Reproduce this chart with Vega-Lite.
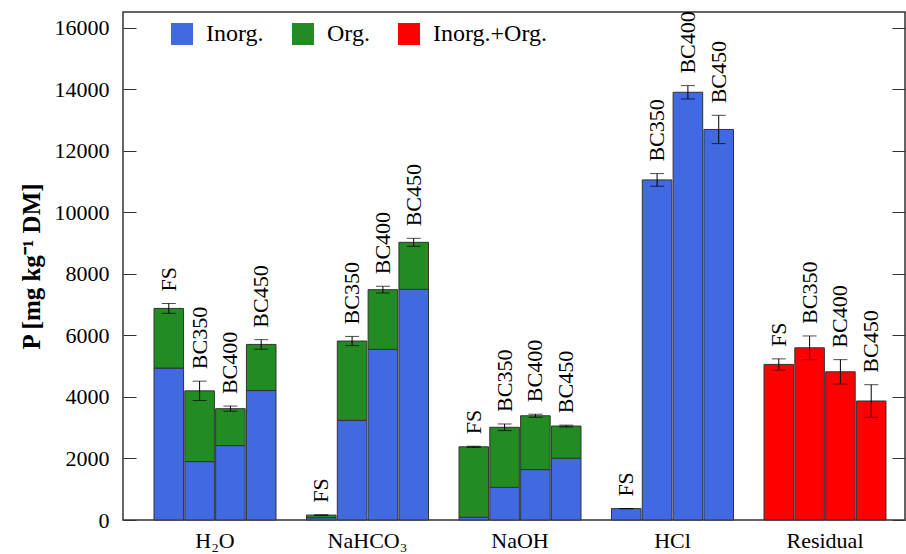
{
  "$schema": "https://vega.github.io/schema/vega-lite/v6.json",
  "width": 782,
  "height": 508,
  "autosize": "none",
  "padding": {"left": 123, "top": 12, "right": 1, "bottom": 34},
  "background": "white",
  "config": {
    "view": {"stroke": "#333333", "strokeWidth": 1.5},
    "font": "Liberation Serif",
    "text": {"font": "Liberation Serif"},
    "axis": {"labelFont": "Liberation Serif", "titleFont": "Liberation Serif", "labelColor": "#000000", "titleColor": "#000000", "tickColor": "#333333", "domain": false, "grid": false},
    "legend": {"labelFont": "Liberation Serif", "labelColor": "#000000"}
  },
  "datasets": {
    "bars": [
      {"fraction": "H₂O", "sample": "FS", "type": "Inorg.", "value": 4940},
      {"fraction": "H₂O", "sample": "FS", "type": "Org.", "value": 1940},
      {"fraction": "H₂O", "sample": "BC350", "type": "Inorg.", "value": 1900},
      {"fraction": "H₂O", "sample": "BC350", "type": "Org.", "value": 2300},
      {"fraction": "H₂O", "sample": "BC400", "type": "Inorg.", "value": 2420},
      {"fraction": "H₂O", "sample": "BC400", "type": "Org.", "value": 1200},
      {"fraction": "H₂O", "sample": "BC450", "type": "Inorg.", "value": 4210},
      {"fraction": "H₂O", "sample": "BC450", "type": "Org.", "value": 1500},
      {"fraction": "NaHCO₃", "sample": "FS", "type": "Inorg.", "value": 75},
      {"fraction": "NaHCO₃", "sample": "FS", "type": "Org.", "value": 85},
      {"fraction": "NaHCO₃", "sample": "BC350", "type": "Inorg.", "value": 3240},
      {"fraction": "NaHCO₃", "sample": "BC350", "type": "Org.", "value": 2580},
      {"fraction": "NaHCO₃", "sample": "BC400", "type": "Inorg.", "value": 5550},
      {"fraction": "NaHCO₃", "sample": "BC400", "type": "Org.", "value": 1940},
      {"fraction": "NaHCO₃", "sample": "BC450", "type": "Inorg.", "value": 7500},
      {"fraction": "NaHCO₃", "sample": "BC450", "type": "Org.", "value": 1530},
      {"fraction": "NaOH", "sample": "FS", "type": "Inorg.", "value": 90},
      {"fraction": "NaOH", "sample": "FS", "type": "Org.", "value": 2290},
      {"fraction": "NaOH", "sample": "BC350", "type": "Inorg.", "value": 1060},
      {"fraction": "NaOH", "sample": "BC350", "type": "Org.", "value": 1955},
      {"fraction": "NaOH", "sample": "BC400", "type": "Inorg.", "value": 1640},
      {"fraction": "NaOH", "sample": "BC400", "type": "Org.", "value": 1750},
      {"fraction": "NaOH", "sample": "BC450", "type": "Inorg.", "value": 2010},
      {"fraction": "NaOH", "sample": "BC450", "type": "Org.", "value": 1045},
      {"fraction": "HCl", "sample": "FS", "type": "Inorg.", "value": 370},
      {"fraction": "HCl", "sample": "BC350", "type": "Inorg.", "value": 11060},
      {"fraction": "HCl", "sample": "BC400", "type": "Inorg.", "value": 13910},
      {"fraction": "HCl", "sample": "BC450", "type": "Inorg.", "value": 12700},
      {"fraction": "Residual", "sample": "FS", "type": "Inorg.+Org.", "value": 5060},
      {"fraction": "Residual", "sample": "BC350", "type": "Inorg.+Org.", "value": 5600},
      {"fraction": "Residual", "sample": "BC400", "type": "Inorg.+Org.", "value": 4820},
      {"fraction": "Residual", "sample": "BC450", "type": "Inorg.+Org.", "value": 3870}
    ],
    "totals": [
      {"fraction": "H₂O", "sample": "FS", "low": 6720, "high": 7040},
      {"fraction": "H₂O", "sample": "BC350", "low": 3885, "high": 4515},
      {"fraction": "H₂O", "sample": "BC400", "low": 3535, "high": 3705},
      {"fraction": "H₂O", "sample": "BC450", "low": 5555, "high": 5865},
      {"fraction": "NaHCO₃", "sample": "FS", "low": 150, "high": 170},
      {"fraction": "NaHCO₃", "sample": "BC350", "low": 5670, "high": 5970},
      {"fraction": "NaHCO₃", "sample": "BC400", "low": 7380, "high": 7600},
      {"fraction": "NaHCO₃", "sample": "BC450", "low": 8900, "high": 9160},
      {"fraction": "NaOH", "sample": "FS", "low": 2360, "high": 2400},
      {"fraction": "NaOH", "sample": "BC350", "low": 2907, "high": 3123},
      {"fraction": "NaOH", "sample": "BC400", "low": 3340, "high": 3440},
      {"fraction": "NaOH", "sample": "BC450", "low": 3025, "high": 3085},
      {"fraction": "HCl", "sample": "FS", "low": 370, "high": 370},
      {"fraction": "HCl", "sample": "BC350", "low": 10855, "high": 11265},
      {"fraction": "HCl", "sample": "BC400", "low": 13693, "high": 14127},
      {"fraction": "HCl", "sample": "BC450", "low": 12240, "high": 13160},
      {"fraction": "Residual", "sample": "FS", "low": 4880, "high": 5240},
      {"fraction": "Residual", "sample": "BC350", "low": 5215, "high": 5985},
      {"fraction": "Residual", "sample": "BC400", "low": 4425, "high": 5215},
      {"fraction": "Residual", "sample": "BC450", "low": 3340, "high": 4400}
    ]
  },
  "resolve": {"axis": {"y": "independent"}},
  "layer": [
    {
      "data": {"name": "bars"},
      "mark": {"type": "bar", "stroke": "#333333", "strokeWidth": 1},
      "encoding": {
        "x": {"field": "fraction", "type": "nominal", "sort": ["H₂O", "NaHCO₃", "NaOH", "HCl", "Residual"],
              "scale": {"type": "band", "paddingInner": 0.2, "paddingOuter": 0, "range": [31, 763]},
              "axis": {"title": null, "labelAngle": 0, "ticks": false, "labelFontSize": 22, "labelPadding": 10}},
        "xOffset": {"field": "sample", "type": "nominal", "sort": ["FS", "BC350", "BC400", "BC450"], "scale": {"paddingInner": 0.04, "paddingOuter": 0}},
        "y": {"field": "value", "type": "quantitative", "stack": "zero",
              "scale": {"domain": [0, 16520], "nice": false},
              "axis": {"orient": "left", "values": [0, 2000, 4000, 6000, 8000, 10000, 12000, 14000, 16000], "format": "d", "tickSize": -13, "labelPadding": 27, "labelFontSize": 22,
                       "title": "P [mg kg⁻¹ DM]", "titleFontSize": 25, "titleFontWeight": "bold", "titlePadding": 10}},
        "color": {"field": "type", "type": "nominal",
                  "scale": {"domain": ["Inorg.", "Org.", "Inorg.+Org."], "range": ["#4169E1", "#228B22", "#FF0000"]},
                  "legend": {"title": null, "orient": "none", "direction": "horizontal", "legendX": 47, "legendY": 10,
                             "symbolType": "square", "symbolSize": 484, "symbolStrokeWidth": 0, "labelFontSize": 24,
                             "labelOffset": 12, "columnPadding": 27, "padding": 0}},
        "order": {"field": "type", "sort": "ascending"}
      }
    },
    {
      "data": {"name": "totals"},
      "mark": {"type": "rule", "color": "#000000", "strokeWidth": 1},
      "encoding": {
        "x": {"field": "fraction", "type": "nominal", "sort": ["H₂O", "NaHCO₃", "NaOH", "HCl", "Residual"]},
        "xOffset": {"field": "sample", "type": "nominal", "sort": ["FS", "BC350", "BC400", "BC450"]},
        "y": {"field": "low", "type": "quantitative",
              "axis": {"orient": "right", "values": [0, 2000, 4000, 6000, 8000, 10000, 12000, 14000, 16000], "tickSize": -13, "labels": false, "title": null}},
        "y2": {"field": "high"}
      }
    },
    {
      "data": {"name": "totals"},
      "mark": {"type": "tick", "color": "#000000", "thickness": 1, "size": 14},
      "encoding": {
        "x": {"field": "fraction", "type": "nominal", "sort": ["H₂O", "NaHCO₃", "NaOH", "HCl", "Residual"]},
        "xOffset": {"field": "sample", "type": "nominal", "sort": ["FS", "BC350", "BC400", "BC450"]},
        "y": {"field": "low", "type": "quantitative", "axis": null}
      }
    },
    {
      "data": {"name": "totals"},
      "mark": {"type": "tick", "color": "#000000", "thickness": 1, "size": 14},
      "encoding": {
        "x": {"field": "fraction", "type": "nominal", "sort": ["H₂O", "NaHCO₃", "NaOH", "HCl", "Residual"]},
        "xOffset": {"field": "sample", "type": "nominal", "sort": ["FS", "BC350", "BC400", "BC450"]},
        "y": {"field": "high", "type": "quantitative", "axis": null}
      }
    },
    {
      "data": {"name": "totals"},
      "mark": {"type": "text", "angle": 270, "align": "left", "baseline": "middle", "dx": 12, "fontSize": 22, "font": "Liberation Serif", "color": "#000000"},
      "encoding": {
        "x": {"field": "fraction", "type": "nominal", "sort": ["H₂O", "NaHCO₃", "NaOH", "HCl", "Residual"]},
        "xOffset": {"field": "sample", "type": "nominal", "sort": ["FS", "BC350", "BC400", "BC450"]},
        "y": {"field": "high", "type": "quantitative", "axis": null},
        "text": {"field": "sample"}
      }
    }
  ]
}
